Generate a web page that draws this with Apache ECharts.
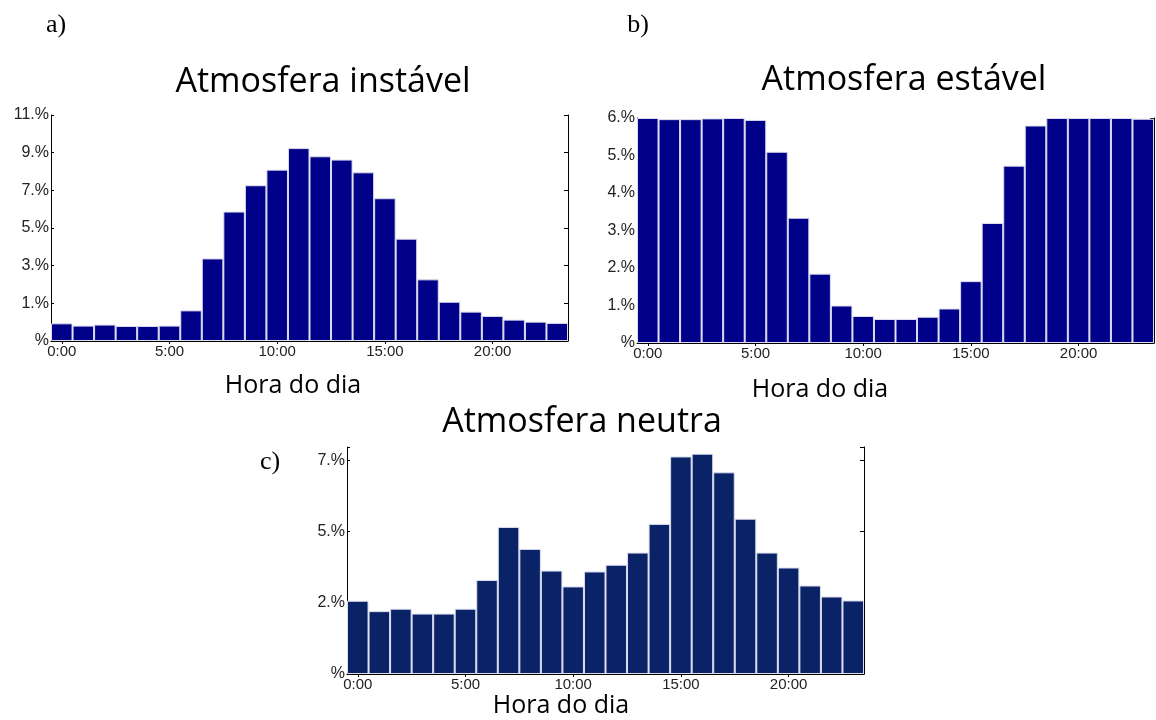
<!DOCTYPE html>
<html>
<head>
<meta charset="utf-8">
<script src="https://cdn.jsdelivr.net/npm/echarts@6/dist/echarts.min.js"></script>
<style>
  html, body { margin: 0; padding: 0; background: #fff; }
  #chart { width: 1156px; height: 720px; }
</style>
</head>
<body>
<div id="chart"></div>
<script>
// Hour-of-day categories shared by the three histograms
const hours = ['0:00','1:00','2:00','3:00','4:00','5:00','6:00','7:00','8:00','9:00','10:00','11:00',
               '12:00','13:00','14:00','15:00','16:00','17:00','18:00','19:00','20:00','21:00','22:00','23:00'];

// Share of occurrences per hour (%)
const instavel = [0.86, 0.75, 0.80, 0.73, 0.73, 0.75, 1.49, 4.02, 6.30, 7.58, 8.34, 9.39,
                  8.99, 8.83, 8.21, 6.95, 4.98, 3.00, 1.91, 1.43, 1.22, 1.04, 0.94, 0.88];
const estavel  = [6.00, 5.97, 5.97, 5.99, 6.00, 5.95, 5.10, 3.34, 1.85, 1.00, 0.72, 0.64,
                  0.64, 0.70, 0.92, 1.65, 3.20, 4.73, 5.80, 6.00, 6.00, 6.00, 6.00, 5.98];
const neutra   = [2.40, 2.06, 2.14, 1.98, 1.98, 2.14, 3.08, 4.82, 4.10, 3.39, 2.87, 3.36,
                  3.58, 3.98, 4.92, 7.13, 7.22, 6.61, 5.09, 3.98, 3.49, 2.90, 2.54, 2.41];

// Y tick labels, one per tick from the bottom
const ticksInstavel = ['%', '1.%', '3.%', '5.%', '7.%', '9.%', '11.%'];
const ticksEstavel  = ['%', '1.%', '2.%', '3.%', '4.%', '5.%', '6.%'];
const ticksNeutra   = ['%', '2.%', '5.%', '7.%'];

const panels = [
  { grid: { left: 51, top: 115, width: 517, height: 226 }, data: instavel, color: '#000088',
    max: 11, step: 11 / 6, labels: ticksInstavel },
  { grid: { left: 637, top: 118, width: 517, height: 225 }, data: estavel, color: '#000088',
    max: 6, step: 1, labels: ticksEstavel },
  { grid: { left: 347, top: 447, width: 517, height: 227 }, data: neutra, color: '#0a2366',
    max: 7.44, step: 7 / 3, labels: ticksNeutra }
];

const grids = [], xAxes = [], yAxes = [], series = [];

panels.forEach((p, i) => {
  grids.push(Object.assign({ containLabel: false }, p.grid));

  const fmt = (v) => {
    const k = Math.round(v / p.step);
    return Math.abs(v - k * p.step) < 1e-6 && p.labels[k] !== undefined ? p.labels[k] : '';
  };

  // bottom axis with hour labels
  xAxes.push({
    type: 'category', gridIndex: i, position: 'bottom', data: hours,
    boundaryGap: true,
    axisLine: { lineStyle: { color: '#b0b0b0', width: 1 } },
    axisTick: { show: false },
    axisLabel: { interval: 4, margin: 3, fontFamily: 'Liberation Sans', fontSize: 15, color: '#222' },
    splitLine: { show: false }
  });
  // top frame with inward ticks
  xAxes.push({
    type: 'category', gridIndex: i, position: 'top', data: hours,
    boundaryGap: true,
    axisLine: { lineStyle: { color: '#000', width: 1 } },
    axisTick: { show: true, inside: true, length: 3, alignWithLabel: true, interval: 4,
                lineStyle: { color: '#000' } },
    axisLabel: { show: false },
    splitLine: { show: false }
  });
  // left value axis with labels
  yAxes.push({
    type: 'value', gridIndex: i, position: 'left', min: 0, max: p.max, interval: p.step,
    axisLine: { show: true, lineStyle: { color: '#000', width: 1 } },
    axisTick: { show: true, inside: true, length: 3, lineStyle: { color: '#000' } },
    axisLabel: { formatter: fmt, margin: 2, fontFamily: 'Liberation Sans', fontSize: 16, color: '#222' },
    splitLine: { show: false }
  });
  // right frame with inward ticks
  yAxes.push({
    type: 'value', gridIndex: i, position: 'right', min: 0, max: p.max, interval: p.step,
    axisLine: { show: true, lineStyle: { color: '#000', width: 1 } },
    axisTick: { show: true, inside: true, length: 4, lineStyle: { color: '#000' } },
    axisLabel: { show: false },
    splitLine: { show: false }
  });

  series.push({
    type: 'bar', xAxisIndex: i * 2, yAxisIndex: i * 2, data: p.data,
    barCategoryGap: '0%', barGap: '0%',
    itemStyle: { color: p.color, borderColor: '#dcdcee', borderWidth: 1 },
    emphasis: { disabled: true },
    silent: true
  });
});

const titleFont = '34px "Open Sans"';
const axisNameFont = '25px "Open Sans"';
const tagFont = '26px "Liberation Serif"';

const texts = [
  { text: 'Atmosfera instável', x: 323, y: 82, font: titleFont },
  { text: 'Atmosfera estável', x: 904, y: 80, font: titleFont },
  { text: 'Atmosfera neutra', x: 582, y: 422, font: titleFont },
  { text: 'Hora do dia', x: 293, y: 386, font: axisNameFont },
  { text: 'Hora do dia', x: 820, y: 390, font: axisNameFont },
  { text: 'Hora do dia', x: 561, y: 706, font: axisNameFont },
  { text: 'a)', x: 56, y: 25, font: tagFont },
  { text: 'b)', x: 638, y: 25, font: tagFont },
  { text: 'c)', x: 270, y: 462, font: tagFont }
];

const chart = echarts.init(document.getElementById('chart'), null, { renderer: 'canvas' });
chart.setOption({
  animation: false,
  backgroundColor: '#fff',
  grid: grids,
  xAxis: xAxes,
  yAxis: yAxes,
  series: series,
  graphic: texts.map(t => ({
    type: 'text', x: t.x, y: t.y, silent: true,
    style: { text: t.text, font: t.font, fill: '#000', textAlign: 'center', textVerticalAlign: 'middle' }
  }))
});
</script>
</body>
</html>
